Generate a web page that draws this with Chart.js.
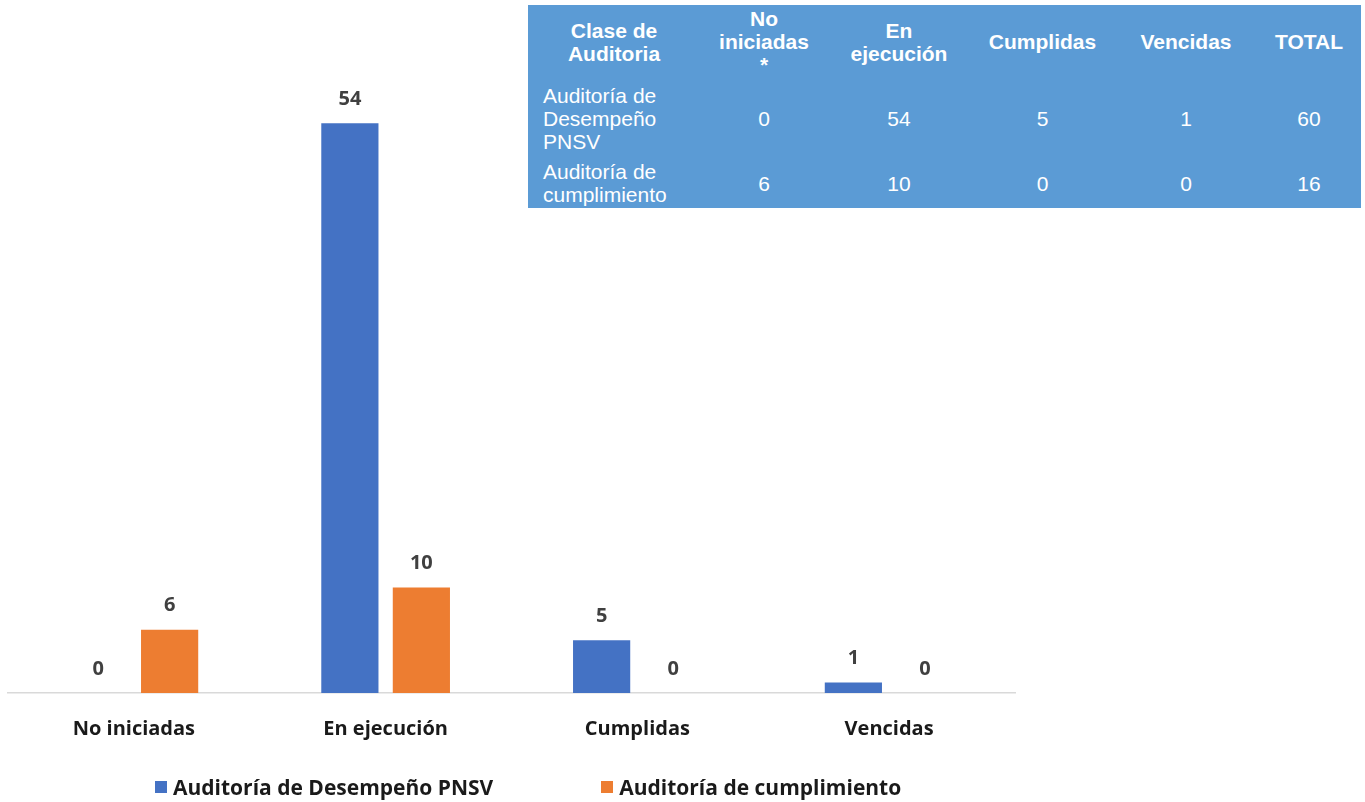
<!DOCTYPE html>
<html lang="es">
<head>
<meta charset="utf-8">
<title>Auditorías por estado</title>
<script src="https://cdn.jsdelivr.net/npm/chart.js@4.4.1/dist/chart.umd.min.js"></script>
<style>
  html, body { margin: 0; padding: 0; background: #fff; }
  body { width: 1365px; height: 802px; position: relative; overflow: hidden; font-family: "Open Sans", Lato, sans-serif; }
  #chart-wrap { position: absolute; left: 0; top: 0; width: 1025px; height: 776px; }
  #legend { position: absolute; left: 155px; top: 773px; display: flex; align-items: center; font-weight: bold; font-size: 21px; color: #1a1a1a; }
  #legend .item { display: flex; align-items: center; }
  #legend .item + .item { margin-left: 108px; }
  #legend .swatch { width: 12px; height: 12px; margin-right: 6px; }
  #summary { position: absolute; left: 528px; top: 5px; width: 833px; height: 203px; border-collapse: collapse; background: #5b9bd5; color: #fff; font-family: "Liberation Sans", Arial, sans-serif; font-size: 21px; table-layout: fixed; }
  #summary th, #summary td { padding: 0 6px; text-align: center; line-height: 23px; }
  #summary th { font-weight: bold; }
  #summary td.name { text-align: left; padding-left: 15px; }
</style>
</head>
<body>
<div id="chart-wrap"><canvas id="statusChart"></canvas></div>
<div id="legend"></div>
<table id="summary"></table>

<script>
// Estado de las auditorías por tipo
const categories = ['No iniciadas', 'En ejecución', 'Cumplidas', 'Vencidas'];
const seriesNames = ['Auditoría de Desempeño PNSV', 'Auditoría de cumplimiento'];
const desempenoValues = [0, 54, 5, 1];
const cumplimientoValues = [6, 10, 0, 0];
const seriesColors = ['#4472c4', '#ed7d31'];

// Encabezados de la tabla resumen
const tableHeaders = ['Clase de<br>Auditoria', 'No<br>iniciadas<br>*', 'En<br>ejecución', 'Cumplidas', 'Vencidas', 'TOTAL'];
const tableRowNames = ['Auditoría de<br>Desempeño<br>PNSV', 'Auditoría de<br>cumplimiento'];
const columnWidths = [172, 128, 142, 145, 142, 104];
const rowHeights = [73, 80, 50];

const FONT = '"Open Sans", Lato, sans-serif';
const sum = arr => arr.reduce((a, b) => a + b, 0);

function buildTable() {
  const table = document.getElementById('summary');
  const colgroup = document.createElement('colgroup');
  columnWidths.forEach(w => {
    const col = document.createElement('col');
    col.style.width = w + 'px';
    colgroup.appendChild(col);
  });
  table.appendChild(colgroup);

  const head = document.createElement('tr');
  head.style.height = rowHeights[0] + 'px';
  head.innerHTML = tableHeaders.map(h => `<th>${h}</th>`).join('');
  table.appendChild(head);

  [desempenoValues, cumplimientoValues].forEach((vals, i) => {
    const tr = document.createElement('tr');
    tr.style.height = rowHeights[i + 1] + 'px';
    const cells = vals.map(v => `<td>${v}</td>`).join('');
    tr.innerHTML = `<td class="name">${tableRowNames[i]}</td>${cells}<td>${sum(vals)}</td>`;
    table.appendChild(tr);
  });
}

function buildLegend() {
  const legend = document.getElementById('legend');
  seriesNames.forEach((name, i) => {
    const item = document.createElement('div');
    item.className = 'item';
    item.innerHTML = `<span class="swatch" style="background:${seriesColors[i]}"></span><span>${name}</span>`;
    legend.appendChild(item);
  });
}

// Valor encima de cada barra
const valueLabels = {
  id: 'valueLabels',
  afterDatasetsDraw(chart) {
    const ctx = chart.ctx;
    ctx.save();
    ctx.font = 'bold 20px ' + FONT;
    ctx.fillStyle = '#404040';
    ctx.textAlign = 'center';
    ctx.textBaseline = 'middle';
    chart.data.datasets.forEach((ds, di) => {
      chart.getDatasetMeta(di).data.forEach((bar, i) => {
        ctx.fillText(ds.data[i], bar.x, bar.y - 24);
      });
    });
    ctx.restore();
  }
};

buildTable();
buildLegend();

new Chart(document.getElementById('statusChart'), {
  type: 'bar',
  data: {
    labels: categories,
    datasets: [
      { label: seriesNames[0], data: desempenoValues, backgroundColor: seriesColors[0] },
      { label: seriesNames[1], data: cumplimientoValues, backgroundColor: seriesColors[1] }
    ]
  },
  options: {
    responsive: true,
    maintainAspectRatio: false,
    animation: false,
    layout: { padding: { left: 8, right: 10, top: 60, bottom: 11 } },
    datasets: { bar: { categoryPercentage: 0.568, barPercentage: 0.8 } },
    plugins: {
      legend: { display: false },
      tooltip: { enabled: false }
    },
    scales: {
      x: {
        grid: { display: false, drawTicks: false },
        border: { color: '#d9d9d9', width: 1.5 },
        ticks: {
          color: '#1a1a1a',
          padding: 24,
          font: { family: FONT, size: 20, weight: 'bold' }
        }
      },
      y: {
        display: false,
        min: 0,
        max: 60
      }
    }
  },
  plugins: [valueLabels]
});
</script>
</body>
</html>
